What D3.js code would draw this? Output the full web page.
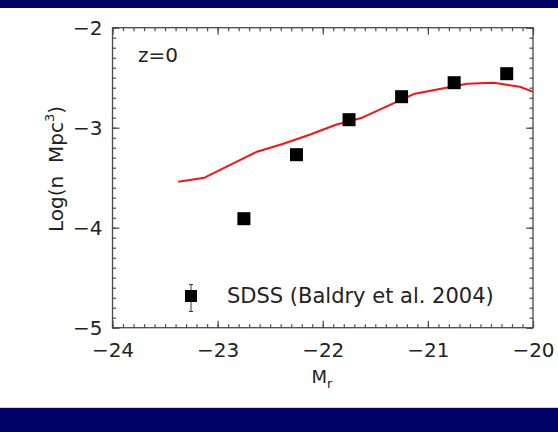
<!DOCTYPE html>
<html>
<head>
<meta charset="utf-8">
<script src="https://cdn.jsdelivr.net/npm/d3@7"></script>
<style>
  html, body { margin: 0; padding: 0; background: #ffffff; }
  svg { display: block; font-family: "DejaVu Sans", sans-serif; }
</style>
</head>
<body>
<svg id="chart" width="558" height="432"></svg>
<script>
// Axis tick values
const xTickValues = [-24, -23, -22, -21, -20];
const yTickValues = [-5, -4, -3, -2];

// SDSS luminosity function points (Baldry et al. 2004)
const sdssMag = [-22.75, -22.25, -21.75, -21.25, -20.75, -20.25];
const sdssLogN = [-3.91, -3.27, -2.92, -2.69, -2.55, -2.46];

// Model curve at z = 0
const modelMag = [-23.375, -23.125, -22.875, -22.625, -22.375, -22.125, -21.875,
                  -21.625, -21.375, -21.125, -20.875, -20.625, -20.375, -20.125, -19.875];
const modelLogN = [-3.54, -3.50, -3.37, -3.24, -3.16, -3.07, -2.97,
                   -2.90, -2.78, -2.66, -2.61, -2.56, -2.55, -2.59, -2.69];

const W = 558, H = 432;
const plot = { left: 112.5, right: 533, top: 27.7, bottom: 327.7 };
const axisColor = "#4a4a4a";

const svg = d3.select("#chart");

// Navy bands at top and bottom of the slide
svg.append("rect").attr("x", 0).attr("y", 0).attr("width", W).attr("height", 8).attr("fill", "#000066");
svg.append("rect").attr("x", 0).attr("y", 408).attr("width", W).attr("height", H - 408).attr("fill", "#000066");
svg.append("line").attr("x1", 0).attr("x2", W).attr("y1", 407.5).attr("y2", 407.5)
  .attr("stroke", "#cfcfd8").attr("stroke-width", 1);

const x = d3.scaleLinear().domain([-24, -20]).range([plot.left, plot.right]);
const y = d3.scaleLinear().domain([-5, -2]).range([plot.bottom, plot.top]);

const minorX = d3.range(-24, -19.99, 0.1).map(v => +v.toFixed(2));
const minorY = d3.range(-5, -1.99, 0.1).map(v => +v.toFixed(2));
const majorLen = 7, minorLen = 3.5;

function styleAxis(g) {
  g.select(".domain").remove();
  g.selectAll(".tick line").attr("stroke", axisColor).attr("stroke-width", 1.2);
  g.selectAll(".tick text").attr("fill", "#222").attr("font-family", "DejaVu Sans, sans-serif");
}

// Bottom axis with labels, ticks pointing inward
svg.append("g").attr("transform", `translate(0,${plot.bottom})`)
  .call(d3.axisBottom(x).tickValues(minorX).tickSize(-minorLen).tickFormat(""))
  .call(styleAxis);
svg.append("g").attr("transform", `translate(0,${plot.bottom})`)
  .call(d3.axisBottom(x).tickValues(xTickValues).tickSize(-majorLen).tickPadding(15)
    .tickFormat(d => d3.format("d")(d).replace("-", "\u2212")))
  .call(styleAxis)
  .call(g => g.selectAll(".tick text").attr("font-size", 20));

// Top axis, ticks only
svg.append("g").attr("transform", `translate(0,${plot.top})`)
  .call(d3.axisTop(x).tickValues(minorX).tickSize(-minorLen).tickFormat(""))
  .call(styleAxis);
svg.append("g").attr("transform", `translate(0,${plot.top})`)
  .call(d3.axisTop(x).tickValues(xTickValues).tickSize(-majorLen).tickFormat(""))
  .call(styleAxis);

// Left axis with labels
svg.append("g").attr("transform", `translate(${plot.left},0)`)
  .call(d3.axisLeft(y).tickValues(minorY).tickSize(-minorLen).tickFormat(""))
  .call(styleAxis);
svg.append("g").attr("transform", `translate(${plot.left},0)`)
  .call(d3.axisLeft(y).tickValues(yTickValues).tickSize(-majorLen).tickPadding(10)
    .tickFormat(d => d3.format("d")(d).replace("-", "\u2212")))
  .call(styleAxis)
  .call(g => g.selectAll(".tick text").attr("font-size", 20));

// Right axis, ticks only
svg.append("g").attr("transform", `translate(${plot.right},0)`)
  .call(d3.axisRight(y).tickValues(minorY).tickSize(-minorLen).tickFormat(""))
  .call(styleAxis);
svg.append("g").attr("transform", `translate(${plot.right},0)`)
  .call(d3.axisRight(y).tickValues(yTickValues).tickSize(-majorLen).tickFormat(""))
  .call(styleAxis);

// Plot frame
svg.append("rect")
  .attr("x", plot.left).attr("y", plot.top)
  .attr("width", plot.right - plot.left).attr("height", plot.bottom - plot.top)
  .attr("fill", "none").attr("stroke", axisColor).attr("stroke-width", 1.3);

// Clip for the model curve
svg.append("clipPath").attr("id", "plotClip")
  .append("rect")
  .attr("x", plot.left).attr("y", plot.top)
  .attr("width", plot.right - plot.left).attr("height", plot.bottom - plot.top);

const line = d3.line().x(d => x(d[0])).y(d => y(d[1]));
svg.append("path")
  .datum(modelMag.map((m, i) => [m, modelLogN[i]]))
  .attr("clip-path", "url(#plotClip)")
  .attr("d", line)
  .attr("fill", "none")
  .attr("stroke", "#ff1010")
  .attr("stroke-width", 2)
  .attr("stroke-linejoin", "round");

// SDSS squares
const sq = 13;
svg.append("g").selectAll("rect")
  .data(sdssMag.map((m, i) => [m, sdssLogN[i]]))
  .join("rect")
  .attr("x", d => x(d[0]) - sq / 2)
  .attr("y", d => y(d[1]) - sq / 2)
  .attr("width", sq).attr("height", sq)
  .attr("fill", "#000");

// Redshift label
svg.append("text").attr("x", 138).attr("y", 62)
  .attr("font-size", 20).attr("fill", "#222").text("z=0");

// Legend: square with error bar
const lg = svg.append("g").attr("stroke", "#333").attr("stroke-width", 1);
lg.append("line").attr("x1", 191).attr("x2", 191).attr("y1", 284.5).attr("y2", 311.5);
lg.append("line").attr("x1", 189).attr("x2", 193).attr("y1", 284.5).attr("y2", 284.5);
lg.append("line").attr("x1", 189).attr("x2", 193).attr("y1", 311.5).attr("y2", 311.5);
svg.append("rect").attr("x", 185).attr("y", 290).attr("width", 12).attr("height", 12).attr("fill", "#000");
svg.append("text").attr("x", 227).attr("y", 303)
  .attr("font-size", 21).attr("fill", "#222").text("SDSS (Baldry et al. 2004)");

// Axis titles
const xt = svg.append("text").attr("x", 322).attr("y", 383)
  .attr("text-anchor", "middle").attr("font-size", 18).attr("fill", "#222");
xt.append("tspan").text("M");
xt.append("tspan").attr("font-size", 13).attr("dy", 5).text("r");

const yt = svg.append("text")
  .attr("transform", "translate(63,169) rotate(-90)")
  .attr("text-anchor", "middle").attr("font-size", 20).attr("fill", "#222")
  .attr("xml:space", "preserve");
yt.append("tspan").text("Log(n  Mpc");
yt.append("tspan").attr("font-size", 13).attr("dy", -9).text("3");
yt.append("tspan").attr("dy", 9).text(")");
</script>
</body>
</html>
